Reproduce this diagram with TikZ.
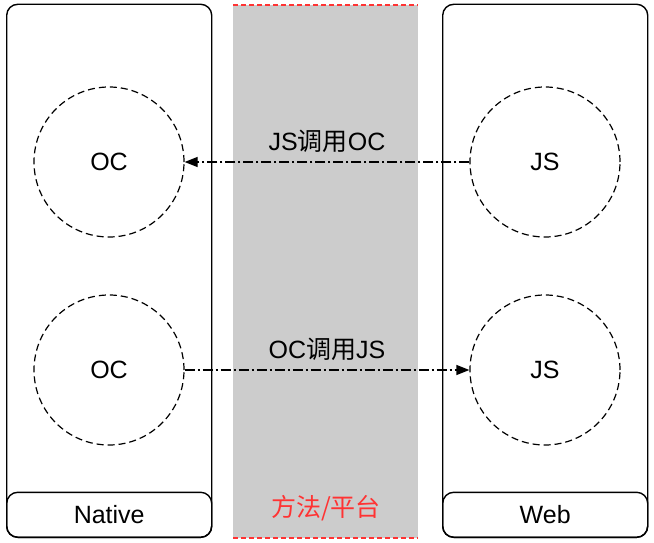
\documentclass[tikz,border=0pt]{standalone}
\usepackage{fontspec}
\setmainfont{Liberation Sans}
\newfontfamily\cjk{Noto Sans CJK SC}
\usetikzlibrary{arrows.meta}
\definecolor{bandgray}{HTML}{CCCCCC}
\definecolor{labred}{HTML}{FF3333}
\begin{document}
\begin{tikzpicture}[x=1pt,y=1pt,
  panel/.style={draw=black,line width=1.4pt,rounded corners=11pt,minimum width=205pt,inner sep=0pt},
  circ/.style={circle,draw=black,dashed,dash pattern=on 7pt off 4pt,line width=1.2pt,minimum size=150pt,inner sep=0pt,font=\fontsize{25}{30}\selectfont},
  call/.style={line width=1.2pt,dash pattern=on 10pt off 3pt on 2pt off 3pt,-{Triangle[length=13pt,width=10pt]}},
  lbl/.style={font=\fontsize{25}{30}\selectfont}
]
\useasboundingbox (0,0) rectangle (654,542);
% gray band
\fill[bandgray] (233,4) rectangle (418,537);
\coordinate (bandTL) at (233,537);
\coordinate (bandTR) at (418,537);
\coordinate (bandBL) at (233,4);
\coordinate (bandBR) at (418,4);
\draw[labred,line width=1.2pt,dash pattern=on 5pt off 3pt] (bandTL) -- (bandTR);
\draw[labred,line width=1.2pt,dash pattern=on 5pt off 3pt] (bandBL) -- (bandBR);
\node[labred,font=\cjk\fontsize{25}{30}\selectfont] (plat) at (326,34) {方法/平台};
% panels
\node[panel,minimum height=533pt,anchor=south west] (native) at (6,4) {};
\node[panel,minimum height=45pt,anchor=south west,lbl] (nativelbl) at (6,4) {Native};
\node[panel,minimum height=533pt,anchor=south west] (web) at (442,4) {};
\node[panel,minimum height=45pt,anchor=south west,lbl] (weblbl) at (442,4) {Web};
% circles
\node[circ] (oc1) at (109,380) {OC};
\node[circ] (oc2) at (109,172) {OC};
\node[circ] (js1) at (545,380) {JS};
\node[circ] (js2) at (545,172) {JS};
% calls
\draw[call] (js1.west) -- node[lbl,yshift=21pt]{JS{\cjk 调用}OC} (oc1.east);
\draw[call] (oc2.east) -- node[lbl,yshift=21pt]{OC{\cjk 调用}JS} (js2.west);
\end{tikzpicture}
\end{document}
